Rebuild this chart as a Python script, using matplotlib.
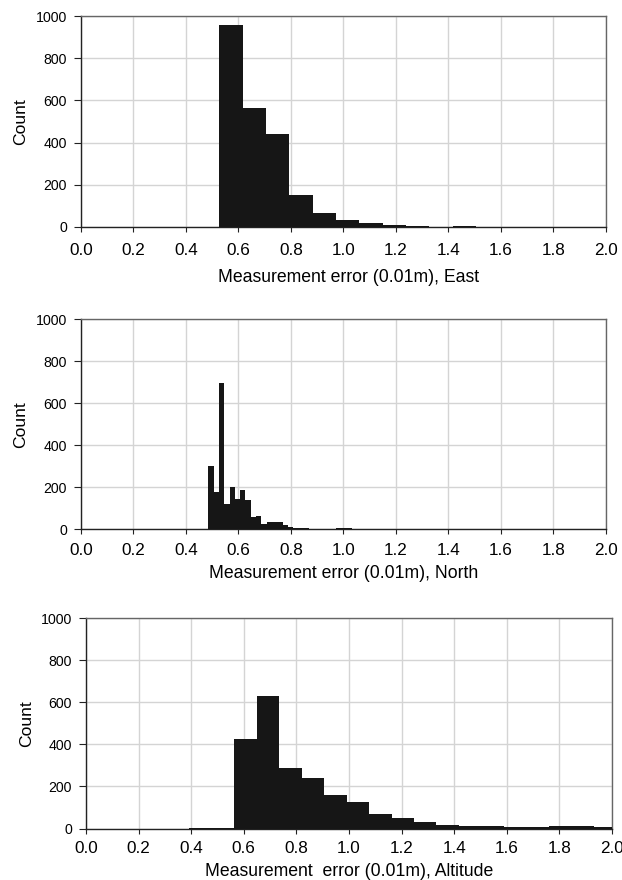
import numpy as np
import matplotlib
matplotlib.use("Agg")
import matplotlib.pyplot as plt

plt.rcParams['font.family'] = ['Liberation Sans', 'DejaVu Sans']

# histogram data (counts per bin)
east_start, east_width = 0.5276, 0.0888
east_counts = [956, 566, 441, 150, 68, 35, 17, 8, 3, 1, 3, 2, 2, 1, 1, 1, 1]

north_start, north_width = 0.4857, 0.0202
north_counts = [302, 179, 694, 121, 203, 144, 189, 137, 59, 63, 27, 35, 35, 34, 22,
                13, 6, 6, 4, 3, 3, 2, 2, 3, 5, 5, 4, 2, 1, 1, 1, 1, 1, 1, 1, 1,
                1, 1, 1, 1, 0, 1, 1, 0, 1, 1, 0, 1, 0, 1, 1, 0, 1, 0, 1, 0, 1,
                0, 1, 0, 1, 0, 0, 1, 0, 1, 0, 0, 1, 0, 0, 1, 0, 0, 1]

alt_start, alt_width = 0.393, 0.0854
alt_counts = [1, 3, 423, 630, 288, 242, 160, 127, 71, 51, 29, 17, 14, 10, 6, 8, 11, 11, 5]

xticks = [0.0, 0.2, 0.4, 0.6, 0.8, 1.0, 1.2, 1.4, 1.6, 1.8, 2.0]
yticks = [0, 200, 400, 600, 800, 1000]
xlabels = ['Measurement error (0.01m), East',
           'Measurement error (0.01m), North',
           'Measurement  error (0.01m), Altitude']

W, H = 622, 880
fig = plt.figure(figsize=(W / 100, H / 100), dpi=100)

# axes boxes in pixels: left, top, right, bottom
boxes = [(80.8, 16, 606, 227), (80.8, 319, 606, 529.3), (86, 618, 612, 828.5)]
panels = [(east_start, east_width, east_counts),
          (north_start, north_width, north_counts),
          (alt_start, alt_width, alt_counts)]
# tick label pad, xlabel pad, xlabel centre (axes fraction)
pads = [(7.7, 8.5, 0.509), (6.1, 5.1, 0.5), (5.6, 4.6, 0.5)]

for (l, t, r, b), (start, width, counts), label, (tpad, lpad, lx) in zip(boxes, panels, xlabels, pads):
    ax = fig.add_axes([l / W, 1 - b / H, (r - l) / W, (b - t) / H])
    edges = start + width * np.arange(len(counts) + 1)
    ax.stairs(counts, edges, fill=True, color='#161616', zorder=3)
    ax.set_xlim(0, 2.0)
    ax.set_ylim(0, 1000)
    ax.set_xticks(xticks)
    ax.set_xticklabels([f'{v:.1f}' for v in xticks], fontsize=12.3)
    ax.set_yticks(yticks)
    ax.set_yticklabels([str(v) for v in yticks], fontsize=10.2)
    ax.tick_params(axis='x', direction='out', length=3.6, width=0.8, color='#222222', pad=tpad)
    ax.tick_params(axis='y', direction='out', length=4.8, width=0.8, color='#222222', pad=5.2)
    ax.grid(True, color='#d4d4d4', linewidth=1.0, zorder=0)
    ax.set_axisbelow(True)
    for side in ['top', 'right']:
        ax.spines[side].set_color('#666666')
        ax.spines[side].set_linewidth(1.0)
    for side in ['left', 'bottom']:
        ax.spines[side].set_color('#222222')
        ax.spines[side].set_linewidth(1.0)
    ax.set_xlabel(label, fontsize=12.7, labelpad=lpad)
    ax.xaxis.label.set_x(lx)
    ax.set_ylabel('Count', fontsize=12.6, labelpad=5.2)

fig.savefig('out.png', dpi=100)
